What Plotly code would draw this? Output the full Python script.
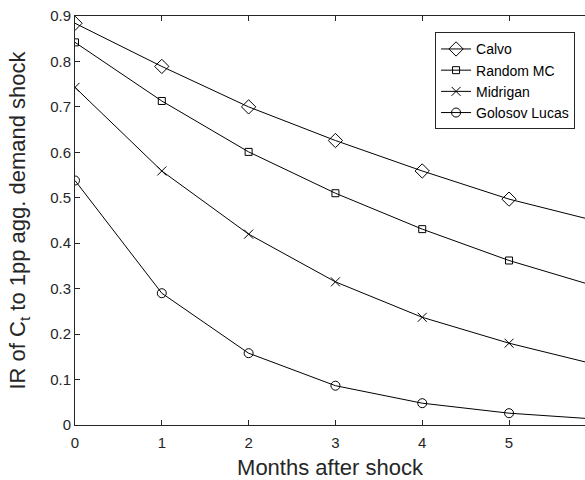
import plotly.graph_objects as go

# Impulse responses of consumption to a 1pp aggregate demand shock
months = [0, 1, 2, 3, 4, 5, 6]
calvo = [0.884, 0.789, 0.700, 0.626, 0.559, 0.497, 0.449]
random_mc = [0.842, 0.713, 0.601, 0.510, 0.431, 0.362, 0.305]
midrigan = [0.743, 0.559, 0.420, 0.315, 0.237, 0.180, 0.133]
golosov_lucas = [0.538, 0.290, 0.158, 0.0865, 0.048, 0.026, 0.013]

series = [
    ("Calvo", calvo, "diamond-open", 11),
    ("Random MC", random_mc, "square-open", 7),
    ("Midrigan", midrigan, "x-thin-open", 9),
    ("Golosov Lucas", golosov_lucas, "circle-open", 9),
]

ink = "#262626"
fig = go.Figure()
for name, vals, sym, size in series:
    fig.add_trace(go.Scatter(
        x=months, y=vals, name=name, mode="lines+markers",
        line=dict(color="black", width=1),
        marker=dict(symbol=sym, size=size, color="black",
                    line=dict(color="black", width=1)),
    ))

fig.update_layout(
    width=585, height=480,
    margin=dict(l=75, r=0, t=16, b=55),
    plot_bgcolor="white", paper_bgcolor="white",
    font=dict(family="Liberation Sans, Arial, sans-serif", color=ink),
    legend=dict(
        x=0.706, y=0.960, xanchor="left", yanchor="top",
        bgcolor="white", bordercolor=ink, borderwidth=1,
        font=dict(size=14, color="black"),
        itemwidth=30, tracegroupgap=0,
    ),
    showlegend=True,
)
fig.update_xaxes(
    range=[0, 5.875], tickvals=[0, 1, 2, 3, 4, 5],
    showline=True, linecolor=ink, linewidth=1, mirror="ticks",
    ticks="inside", ticklen=5, tickcolor=ink,
    showgrid=False, zeroline=False,
    tickfont=dict(size=15, color=ink), ticklabelstandoff=4,
    title=dict(text="Months after shock", font=dict(size=22, color=ink), standoff=12),
)
fig.update_yaxes(
    range=[0, 0.9], tickvals=[0, 0.1, 0.2, 0.3, 0.4, 0.5, 0.6, 0.7, 0.8, 0.9],
    ticktext=["0", "0.1", "0.2", "0.3", "0.4", "0.5", "0.6", "0.7", "0.8", "0.9"],
    showline=True, linecolor=ink, linewidth=1, mirror=False,
    ticks="inside", ticklen=5, tickcolor=ink,
    showgrid=False, zeroline=False,
    tickfont=dict(size=15, color=ink),
    title=dict(text="IR of C<sub>t</sub> to 1pp agg. demand shock",
               font=dict(size=22, color=ink), standoff=18),
)

fig.write_html("out.html")
